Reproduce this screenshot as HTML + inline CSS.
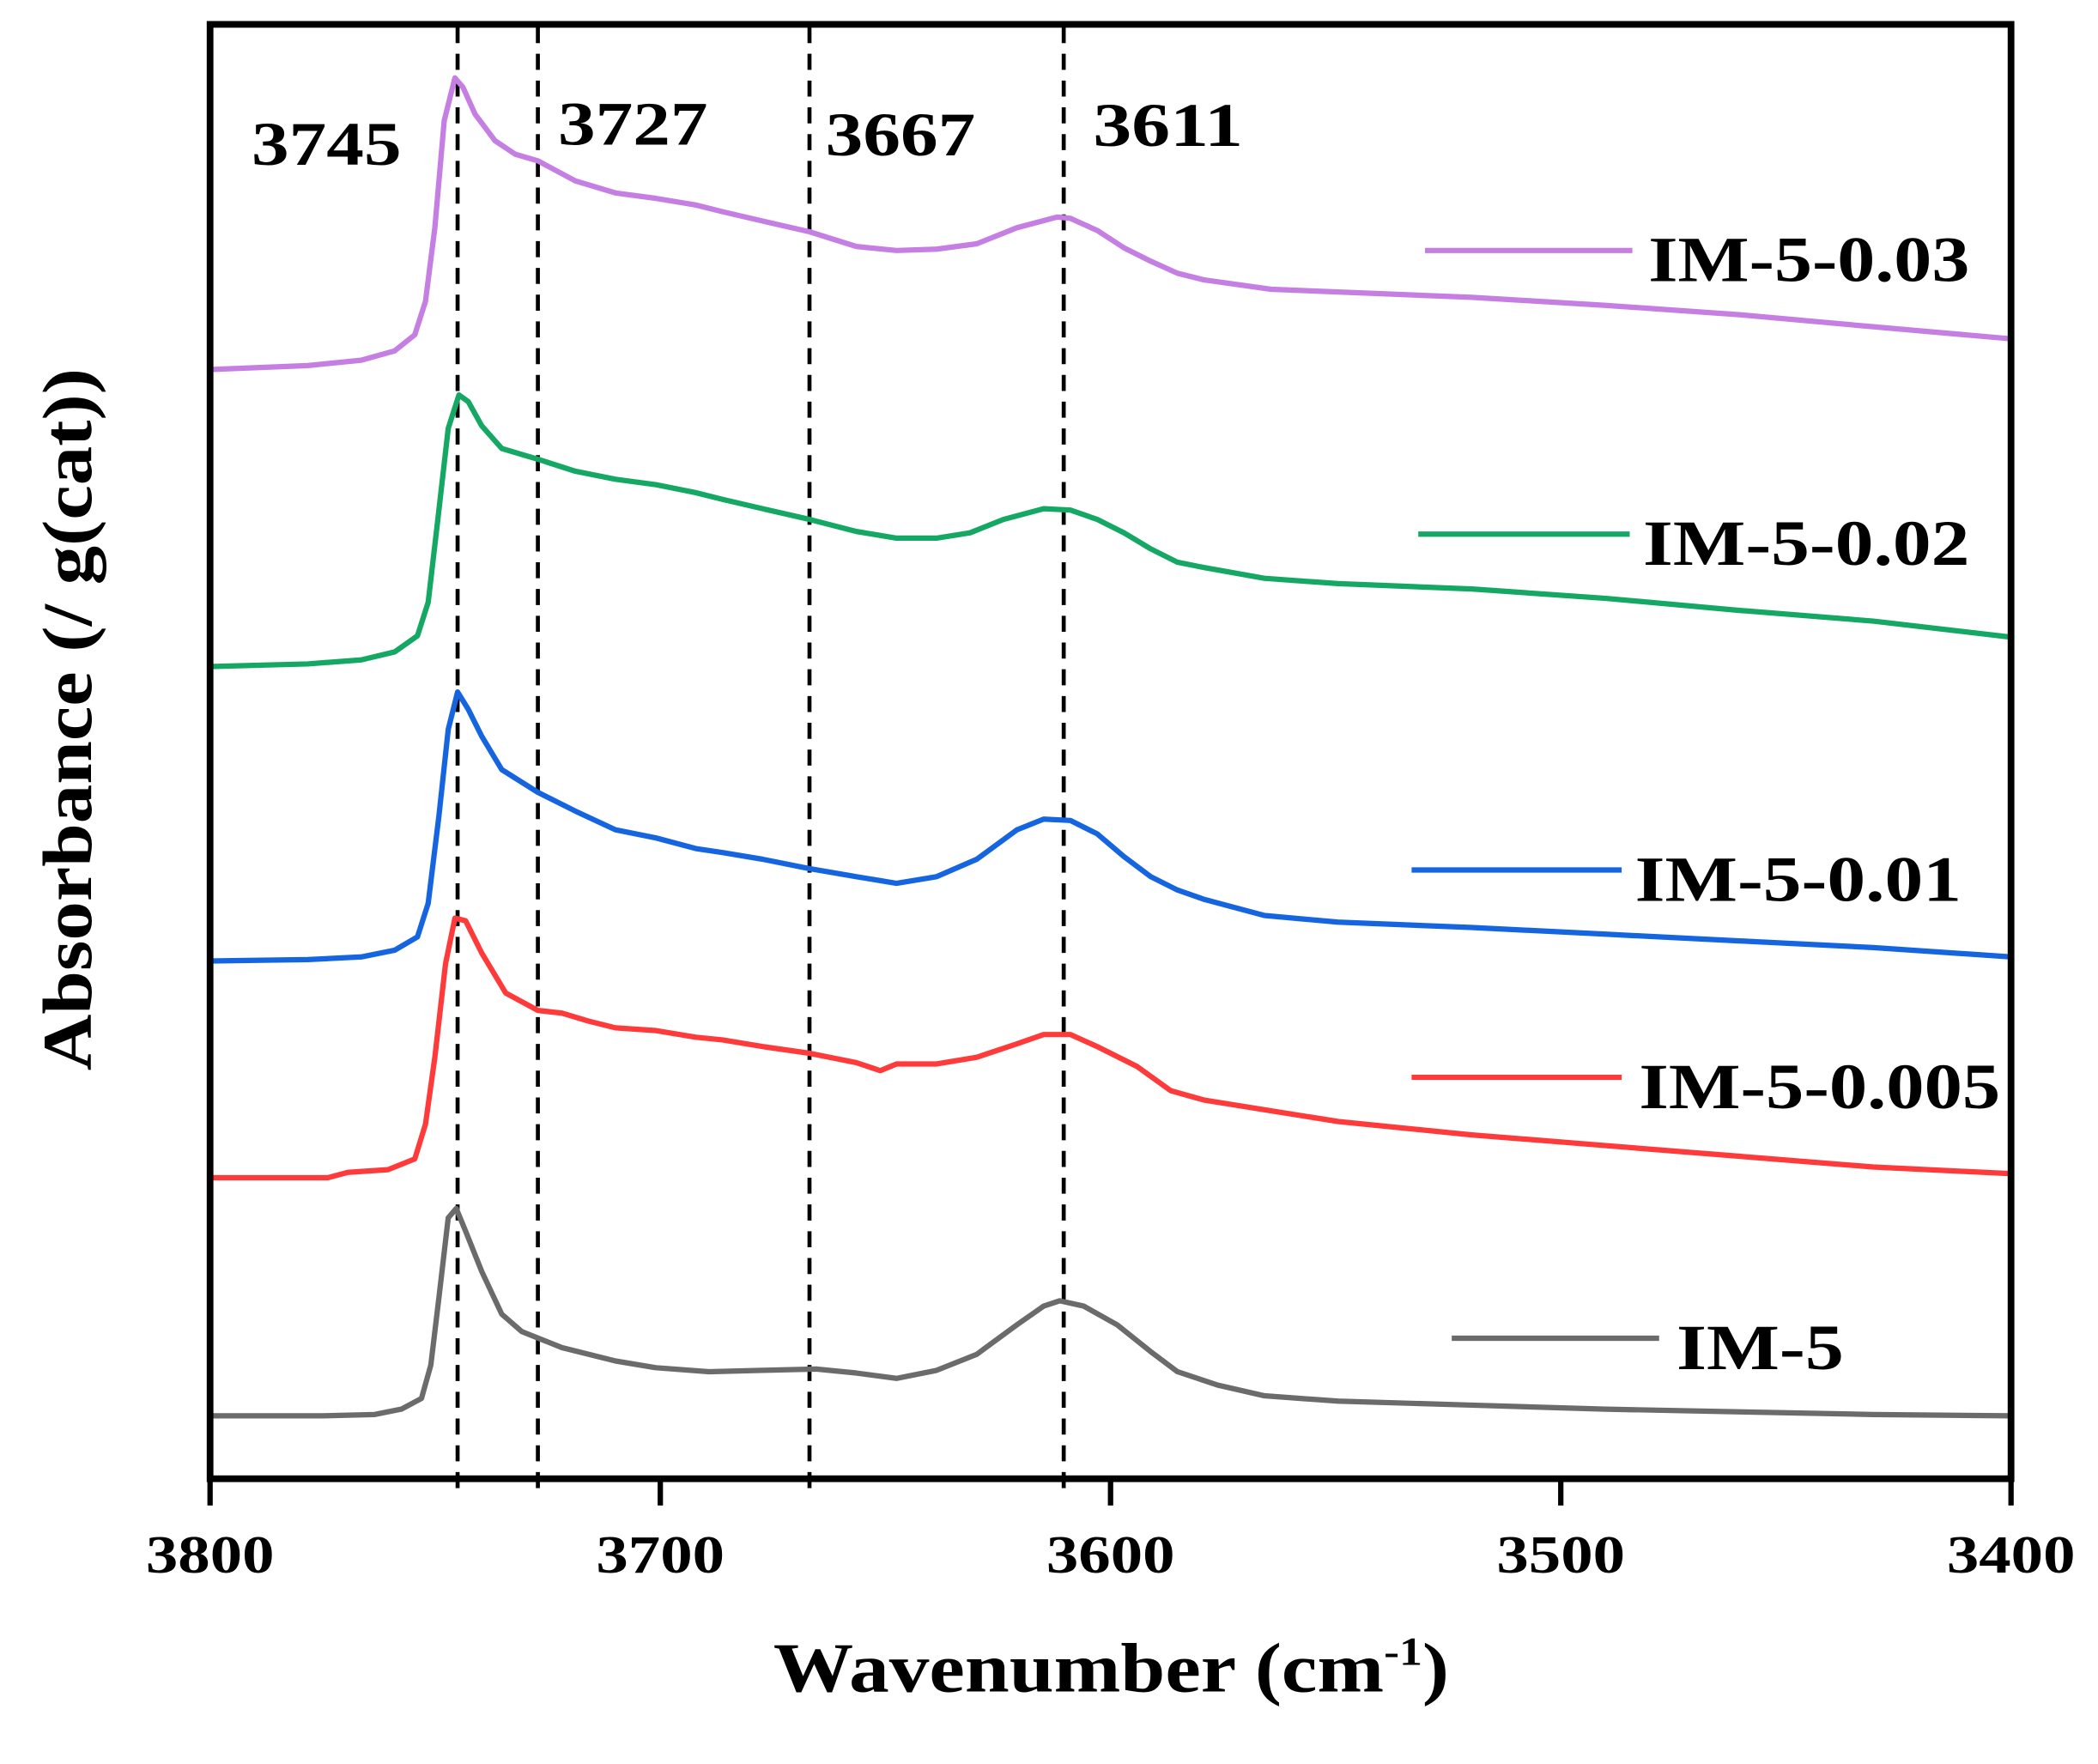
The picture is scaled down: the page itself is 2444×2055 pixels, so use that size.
<!DOCTYPE html>
<html><head><meta charset="utf-8"><style>
html,body{margin:0;padding:0;background:#fff;}
svg{display:block;}
text{font-family:"Liberation Serif",serif;font-weight:bold;fill:#000;}
</style></head><body>
<svg width="2444" height="2055" viewBox="0 0 1568 1318" xmlns="http://www.w3.org/2000/svg">
<rect width="1568" height="1318" fill="#fff"/>
<g stroke="#000" stroke-width="3" stroke-dasharray="12,8">
<line x1="342" y1="20" x2="342" y2="1115"/>
<line x1="402" y1="20" x2="402" y2="1115"/>
<line x1="605" y1="20" x2="605" y2="1115"/>
<line x1="795" y1="20" x2="795" y2="1115"/>
</g>
<g fill="none" stroke-width="4" stroke-linejoin="round">
<polyline stroke="#c57fe3" points="157,276 230,273 270,269 295,262 310,250 318,225 325,170 332,90 340,58 346,65 355,85 370,105 385,115 402,120 430,135 460,144 490,148 520,153 540,158 570,165 605,173 640,184 670,187 700,186 730,182 760,170 790,162 800,163 820,172 840,185 860,195 880,204 900,209 950,216 1000,218 1100,222 1200,228 1300,235 1400,244 1503,253"/>
<polyline stroke="#14a864" points="157,498 230,496 270,493 295,487 312,475 320,450 327,390 335,320 343,295 350,300 360,318 375,335 402,343 430,352 460,358 490,362 520,368 540,373 570,380 605,388 640,397 670,402 700,402 725,398 750,388 780,380 800,381 820,388 840,398 860,410 880,420 900,424 945,432 1000,436 1100,440 1200,447 1300,456 1400,464 1503,476"/>
<polyline stroke="#1565e0" points="157,718 230,717 270,715 295,710 312,700 320,675 328,610 335,545 342,517 350,530 360,550 375,575 402,592 430,606 460,620 490,626 520,634 540,637 570,642 605,649 640,655 670,660 700,655 730,642 760,620 780,612 800,613 820,623 840,640 860,655 880,665 900,672 945,684 1000,689 1100,693 1200,698 1300,703 1400,708 1503,715"/>
<polyline stroke="#ff3a3a" points="157,880 200,880 245,880 260,876 290,874 310,866 318,840 325,790 333,720 340,686 348,688 360,712 378,742 402,755 420,757 440,763 460,768 490,770 520,775 540,777 570,782 605,787 640,794 658,800 670,795 700,795 730,790 760,780 780,773 800,773 820,782 850,797 875,815 900,822 950,830 1000,838 1100,848 1200,856 1300,864 1400,872 1503,877"/>
<polyline stroke="#6b6b6b" points="157,1058 240,1058 280,1057 300,1053 315,1045 322,1020 328,970 335,910 341,903 348,920 360,950 375,982 390,995 420,1007 460,1017 490,1022 530,1025 570,1024 610,1023 640,1026 670,1030 700,1024 730,1012 760,990 780,976 792,972 810,976 835,990 860,1010 880,1025 910,1035 945,1043 1000,1047 1100,1050 1200,1053 1300,1055 1400,1057 1503,1058"/>
</g>
<rect x="157" y="18" width="1346" height="1087" fill="none" stroke="#000" stroke-width="5"/>
<g stroke="#000" stroke-width="4">
<line x1="157" y1="1105" x2="157" y2="1125"/>
<line x1="493.5" y1="1105" x2="493.5" y2="1125"/>
<line x1="830" y1="1105" x2="830" y2="1125"/>
<line x1="1166.5" y1="1105" x2="1166.5" y2="1125"/>
<line x1="1503" y1="1105" x2="1503" y2="1125"/>
</g>
<g font-size="40" lengthAdjust="spacingAndGlyphs">
<text x="109" y="1175" textLength="96" lengthAdjust="spacingAndGlyphs">3800</text>
<text x="445.5" y="1175" textLength="96" lengthAdjust="spacingAndGlyphs">3700</text>
<text x="782" y="1175" textLength="96" lengthAdjust="spacingAndGlyphs">3600</text>
<text x="1118.5" y="1175" textLength="96" lengthAdjust="spacingAndGlyphs">3500</text>
<text x="1455" y="1175" textLength="96" lengthAdjust="spacingAndGlyphs">3400</text>
</g>
<text x="578" y="1264" font-size="52" textLength="505" lengthAdjust="spacingAndGlyphs">Wavenumber (cm<tspan font-size="30" dy="-20">-1</tspan><tspan dy="20">)</tspan></text>
<text transform="translate(68,800) rotate(-90)" font-size="52" textLength="525" lengthAdjust="spacingAndGlyphs">Absorbance (/ g(cat))</text>
<g font-size="46">
<text x="188" y="123" textLength="112" lengthAdjust="spacingAndGlyphs">3745</text>
<text x="417" y="108" textLength="112" lengthAdjust="spacingAndGlyphs">3727</text>
<text x="617" y="116" textLength="112" lengthAdjust="spacingAndGlyphs">3667</text>
<text x="817" y="109" textLength="112" lengthAdjust="spacingAndGlyphs">3611</text>
</g>
<g stroke-width="4">
<line x1="1065" y1="187" x2="1220" y2="187" stroke="#c57fe3"/>
<line x1="1060" y1="399" x2="1218" y2="399" stroke="#14a864"/>
<line x1="1055" y1="650" x2="1212" y2="650" stroke="#1565e0"/>
<line x1="1055" y1="805" x2="1212" y2="805" stroke="#ff3a3a"/>
<line x1="1085" y1="1000" x2="1240" y2="1000" stroke="#6b6b6b"/>
</g>
<g font-size="48">
<text x="1232" y="210" textLength="240" lengthAdjust="spacingAndGlyphs">IM-5-0.03</text>
<text x="1228" y="422" textLength="244" lengthAdjust="spacingAndGlyphs">IM-5-0.02</text>
<text x="1222" y="673" textLength="244" lengthAdjust="spacingAndGlyphs">IM-5-0.01</text>
<text x="1225" y="828" textLength="270" lengthAdjust="spacingAndGlyphs">IM-5-0.005</text>
<text x="1253" y="1023" textLength="125" lengthAdjust="spacingAndGlyphs">IM-5</text>
</g>
</svg>
</body></html>
